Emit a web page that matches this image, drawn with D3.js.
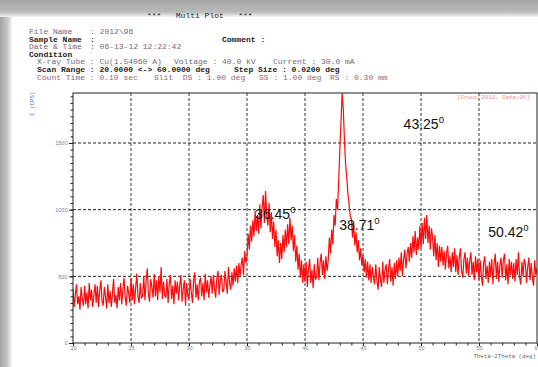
<!DOCTYPE html>
<html>
<head>
<meta charset="utf-8">
<script src="https://cdn.jsdelivr.net/npm/d3@7"></script>
<style>
body { margin: 0; background: #fff; }
svg { display: block; }
text { white-space: pre; }
</style>
</head>
<body>
<svg id="chart" width="538" height="367"></svg>
<script>
// scan: 20 -> 60 deg, every 0.1 deg
var scanStart = 20;
var scanStep = 0.1;
var intensity = [
410,270,360,440,290,350,250,420,330,280,
430,290,380,260,450,320,400,270,360,440,
300,430,270,390,470,320,280,420,350,260,
440,300,390,270,370,480,300,360,260,420,
320,450,290,400,490,340,280,430,370,300,
490,320,440,290,410,520,350,300,450,340,
350,500,320,460,560,370,310,480,420,340,
520,350,470,320,500,380,570,330,460,360,
340,480,300,450,510,330,430,290,470,370,
460,320,430,510,310,400,470,280,450,350,
330,480,380,300,470,530,340,440,320,460,
490,350,450,320,520,380,470,340,430,500,
370,510,410,340,490,540,360,470,510,380,
400,540,460,370,570,450,400,530,430,560,
460,580,450,600,500,590,640,510,690,600,
650,820,700,880,760,920,800,990,840,960,
820,1040,860,1010,1110,900,1140,960,880,1050,
830,980,780,910,720,850,650,770,600,750,
630,810,680,850,720,890,740,940,770,880,
690,810,610,730,550,670,490,620,450,590,
460,610,420,560,630,450,550,410,590,480,
490,640,470,600,670,510,620,480,650,540,
620,790,670,850,740,960,880,1080,1000,1200,
1450,1650,1875,1760,1520,1340,1240,1120,1040,950,
930,790,900,730,830,680,770,620,710,580,
660,530,630,490,610,470,590,450,570,490,
440,590,470,400,570,480,420,610,450,550,
590,440,560,630,460,570,430,600,480,620,
500,640,540,680,500,630,700,560,670,720,
610,750,640,800,680,840,660,790,700,880,
710,900,740,940,780,960,750,880,700,860,
790,650,810,620,750,570,730,610,720,580,
690,550,670,730,560,650,530,680,570,710,
530,660,510,640,710,540,490,630,680,520,
640,500,620,680,510,610,470,650,530,630,
470,620,500,430,600,650,480,580,450,610,
500,630,440,590,670,480,610,460,580,640,
490,620,670,470,590,440,630,510,610,480,
600,460,630,510,680,490,440,610,500,630,
590,450,570,640,470,600,490,430,620,510,
560
];

var xTicks = [20,25,30,35,40,45,50,55,60];
var yTicks = [0,500,1000,1500];
var peakLabels = ["43.25","36.45","38.71","50.42"];
// where each label sits, in chart units [deg, cps]
var peakLabelAt = [[48.5,1605],[35.7,930],[42.95,848],[55.8,795]];

var headerRows = [
  {y:18, color:"#333", bold:false, parts:[[147,"***   Multi Plot   ***"]]},
  {y:34, color:"#6f6688", bold:false, parts:[[29,"File Name"],[90,": 2012\\96"]]},
  {y:41.5, color:"#222", bold:true, parts:[[29,"Sample Name"],[90,":"],[222,"Comment :"]]},
  {y:49, color:"#7a6478", bold:false, parts:[[29,"Date & Time"],[90,": 06-13-12 12:22:42"]]},
  {y:56.5, color:"#222", bold:true, parts:[[29,"Condition"]]},
  {y:64, color:"#6e6a80", bold:false, parts:[[37,"X-ray Tube : Cu(1.54060 A)"],[174,"Voltage : 40.0 kV"],[273,"Current : 30.0 mA"]]},
  {y:72, color:"#222", bold:true, parts:[[37,"Scan Range : 20.0000 <-> 60.0000 deg"],[234,"Step Size : 0.0200 deg"]]},
  {y:79.5, color:"#96686a", bold:false, parts:[[37,"Count Time : 0.10 sec"],[154,"Slit  DS : 1.00 deg"],[259,"SS : 1.00 deg"],[330,"RS : 0.30 mm"]]}
];

var svg = d3.select("#chart");
var mono = "'Liberation Mono','DejaVu Sans Mono',monospace";

// paper shadow
var defs = svg.append("defs");
var gTop = defs.append("linearGradient").attr("id","shTop").attr("x1",0).attr("y1",0).attr("x2",0).attr("y2",1);
gTop.append("stop").attr("offset","0").attr("stop-color","#a4a4a4");
gTop.append("stop").attr("offset","0.7").attr("stop-color","#bababa");
gTop.append("stop").attr("offset","1").attr("stop-color","#f4f4f4");
var gLeft = defs.append("linearGradient").attr("id","shLeft").attr("x1",0).attr("y1",0).attr("x2",1).attr("y2",0);
gLeft.append("stop").attr("offset","0").attr("stop-color","#a2a2a2");
gLeft.append("stop").attr("offset","0.6").attr("stop-color","#c4c4c4");
gLeft.append("stop").attr("offset","1").attr("stop-color","#f6f6f6");

svg.append("rect").attr("width",538).attr("height",367).attr("fill","#fff");
svg.append("rect").attr("x",0).attr("y",0).attr("width",12).attr("height",367).attr("fill","url(#shLeft)");
svg.append("rect").attr("x",0).attr("y",0).attr("width",538).attr("height",17).attr("fill","url(#shTop)");

// header block
headerRows.forEach(function(r){
  r.parts.forEach(function(p){
    svg.append("text")
      .attr("x",p[0]).attr("y",r.y)
      .attr("xml:space","preserve")
      .style("font-family",mono)
      .style("font-size","8px")
      .style("font-weight",r.bold ? "bold" : "normal")
      .style("fill",r.color)
      .text(p[1]);
  });
});

var plotL = 73, plotR = 537, plotT = 93, plotB = 343;
var x = d3.scaleLinear().domain([20,60]).range([plotL,plotR]);
var y = d3.scaleLinear().domain([0,1875]).range([plotB,plotT]);

defs.append("clipPath").attr("id","plotClip")
  .append("rect").attr("x",plotL).attr("y",plotT-1).attr("width",plotR-plotL).attr("height",plotB-plotT+1);

// dashed grid
svg.append("g").selectAll("line")
  .data(xTicks.filter(function(d){ return d > 20 && d < 60; }))
  .join("line")
  .attr("x1",function(d){ return x(d); }).attr("x2",function(d){ return x(d); })
  .attr("y1",plotT).attr("y2",plotB)
  .attr("stroke","#333").attr("stroke-width",1).attr("stroke-dasharray","3,2");
svg.append("g").selectAll("line")
  .data(yTicks.filter(function(d){ return d > 0; }))
  .join("line")
  .attr("x1",plotL).attr("x2",plotR)
  .attr("y1",function(d){ return y(d); }).attr("y2",function(d){ return y(d); })
  .attr("stroke","#222").attr("stroke-width",1).attr("stroke-dasharray","3,2");

// the scan
var line = d3.line()
  .x(function(d,i){ return x(scanStart + i*scanStep); })
  .y(function(d){ return y(d); });
svg.append("path")
  .datum(intensity)
  .attr("clip-path","url(#plotClip)")
  .attr("d",line)
  .attr("fill","none")
  .attr("stroke","#ff0a0a")
  .attr("stroke-width",1.2);

// frame
svg.append("rect")
  .attr("x",plotL).attr("y",plotT).attr("width",plotR-plotL).attr("height",plotB-plotT)
  .attr("fill","none").attr("stroke","#222").attr("stroke-width",1);

// axes
var yAxis = d3.axisLeft(y).tickValues(d3.range(0,1876,50)).tickSize(2.5).tickFormat("");
var gy = svg.append("g").attr("transform","translate(" + plotL + ",0)").call(yAxis);
gy.select(".domain").remove();
gy.selectAll("line").attr("stroke","#222");
var yAxisMaj = d3.axisLeft(y).tickValues(yTicks).tickSize(4).tickPadding(1.5).tickFormat(d3.format("d"));
var gy2 = svg.append("g").attr("transform","translate(" + plotL + ",0)").call(yAxisMaj);
gy2.select(".domain").remove();
gy2.selectAll("line").attr("stroke","#222");
gy2.selectAll("text").style("font-family","'Liberation Sans',Arial,sans-serif").style("font-size","5.5px").style("fill","#7c7ca2");

var xAxis = d3.axisBottom(x).tickValues(d3.range(20,60.01,1)).tickSize(2.5).tickFormat("");
var gx = svg.append("g").attr("transform","translate(0," + plotB + ")").call(xAxis);
gx.select(".domain").remove();
gx.selectAll("line").attr("stroke","#222");
var xAxisMaj = d3.axisBottom(x).tickValues(xTicks).tickSize(3).tickPadding(0.5).tickFormat(d3.format("d"));
var gx2 = svg.append("g").attr("transform","translate(0," + plotB + ")").call(xAxisMaj);
gx2.select(".domain").remove();
gx2.selectAll("line").attr("stroke","#222");
gx2.selectAll("text").style("font-family","'Liberation Sans',Arial,sans-serif").style("font-size","5.5px").style("fill","#7c7ca2");

// axis titles
svg.append("text")
  .attr("transform","translate(34,116) rotate(-90)")
  .style("font-family",mono).style("font-size","5.8px").style("fill","#6f6f8f")
  .text("I (CPS)");
svg.append("text")
  .attr("x",536).attr("y",358).attr("text-anchor","end")
  .style("font-family",mono).style("font-size","5.8px").style("fill","#666")
  .text("Theta-2Theta (deg)");

svg.append("text")
  .attr("x",457).attr("y",98.5)
  .style("font-family",mono).style("font-size","5.8px").style("fill","#f08a8a")
  .text("[Group:2012, Data:96]");

// peak labels
var lab = svg.append("g").selectAll("text")
  .data(peakLabels)
  .join("text")
  .attr("x",function(d,i){ return x(peakLabelAt[i][0]); })
  .attr("y",function(d,i){ return y(peakLabelAt[i][1]); })
  .style("font-family","'Liberation Sans',Arial,sans-serif")
  .style("font-size","14px")
  .style("fill","#111");
lab.append("tspan").text(function(d){ return d; });
lab.append("tspan").attr("dy",-6).style("font-size","9.5px").text("0");
</script>
</body>
</html>
